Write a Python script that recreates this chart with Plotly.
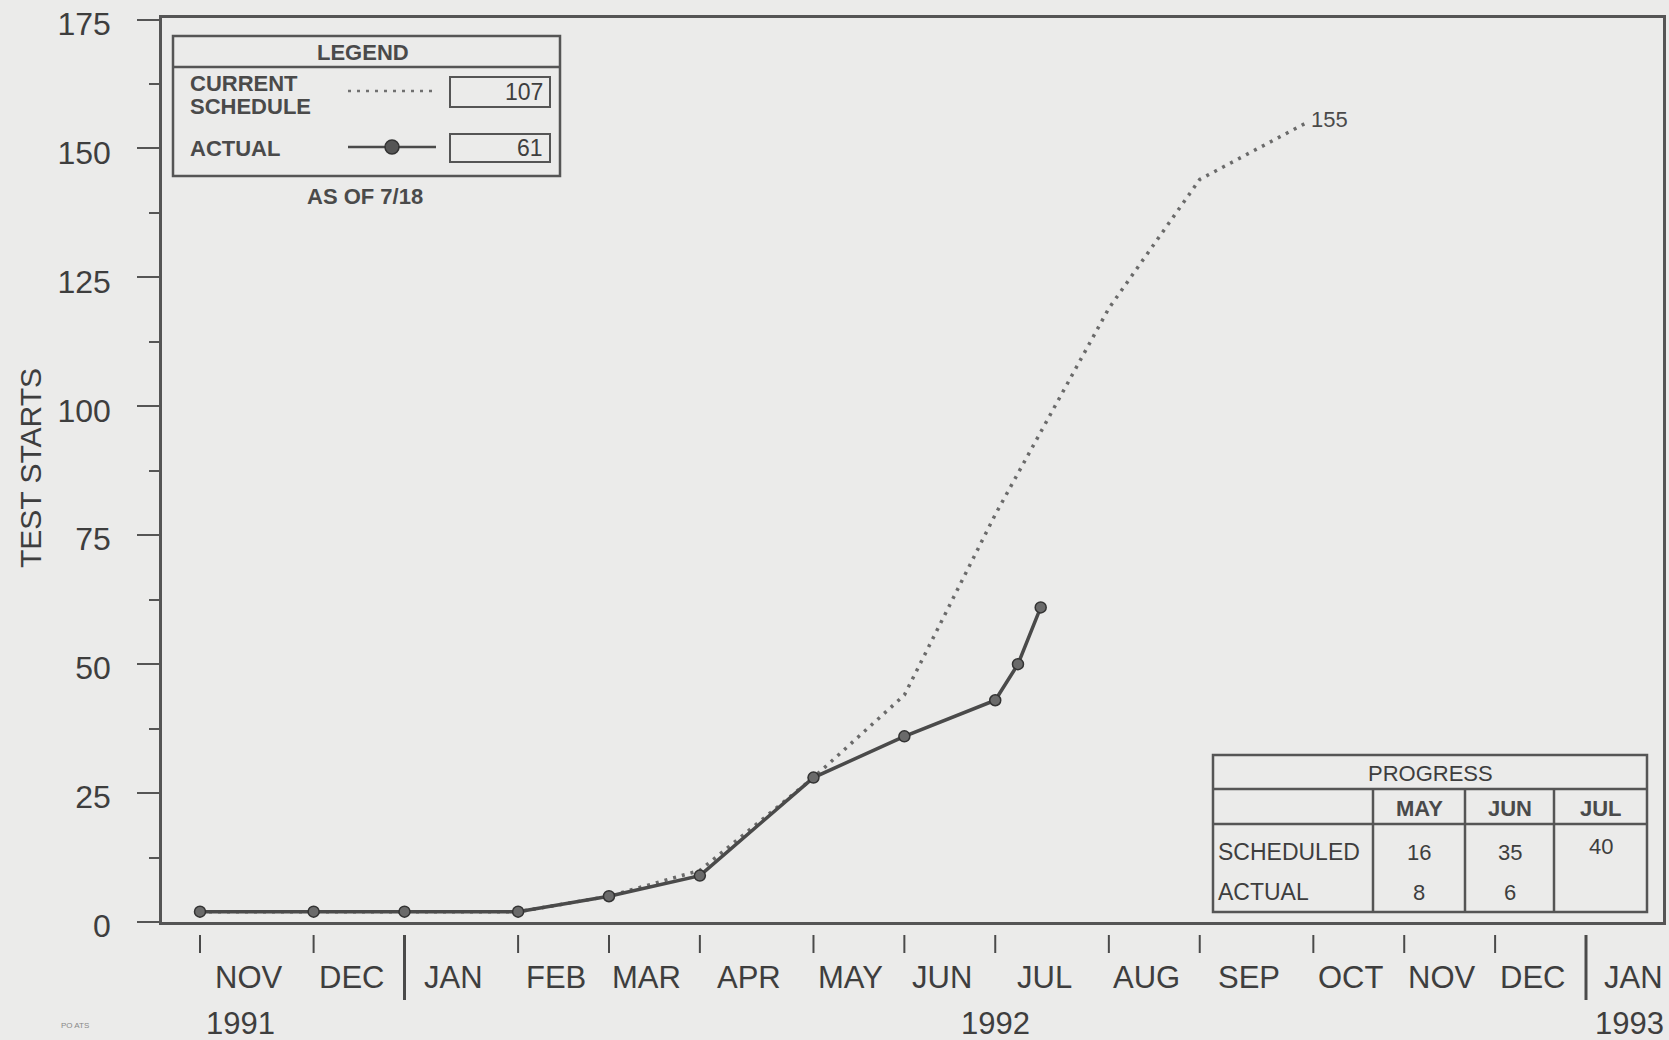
import plotly.graph_objects as go

# ---------------- data ----------------
# x positions are in weeks counted from the first (NOV 1991) tick
tick_weeks = [0, 5, 9, 14, 18, 22, 27, 31, 35, 40, 44, 49, 53, 57, 61]
month_labels = ["NOV", "DEC", "JAN", "FEB", "MAR", "APR", "MAY", "JUN",
                "JUL", "AUG", "SEP", "OCT", "NOV", "DEC", "JAN"]
year_labels = ["1991", "1992", "1993"]
year_weeks = [1.8, 35.0, 62.9]

schedule_weeks = [0, 5, 9, 14, 18, 22, 27, 31, 35, 40, 44, 48.7]
schedule_values = [2, 2, 2, 2, 5, 10, 28, 44, 79, 119, 144, 155]

actual_weeks = [0, 5, 9, 14, 18, 22, 27, 31, 35, 36, 37]
actual_values = [2, 2, 2, 2, 5, 9, 28, 36, 43, 50, 61]

legend_schedule_total = 107
legend_actual_total = 61
as_of = "AS OF 7/18"

progress_months = ["MAY", "JUN", "JUL"]
progress_scheduled = [16, 35, 40]
progress_actual = [8, 6, None]

y_ticks = [0, 25, 50, 75, 100, 125, 150, 175]

# ---------------- layout geometry (pixels) ----------------
W, H = 1669, 1040
L, R, T, B = 162, 1663, 18, 922   # plot area in pixels
PW, PH = R - L, B - T

def px(xp):
    return (xp - L) / PW

def py(yp):
    return (B - yp) / PH

BG = "#ebebea"
INK = "#3e3e3e"
LINE = "#555555"
FONT = "Liberation Sans, Arial, Helvetica, sans-serif"

# axis range in weeks derived from pixel geometry of ticks
wk_px = (1586 - 200) / (tick_weeks[-1] - tick_weeks[0])
x0 = tick_weeks[0] - (200 - L) / wk_px
x1 = tick_weeks[0] + (R - 200) / wk_px

fig = go.Figure()

fig.add_trace(go.Scatter(
    x=schedule_weeks, y=schedule_values, mode="lines",
    line=dict(color="#6a6a6a", width=3.5, dash="3px,6px"),
    hoverinfo="skip", showlegend=False))

fig.add_trace(go.Scatter(
    x=actual_weeks, y=actual_values, mode="lines+markers",
    line=dict(color="#4a4a4a", width=3.5),
    marker=dict(symbol="circle", size=11, color="#6a6a6a",
                line=dict(color="#333333", width=1.5)),
    hoverinfo="skip", showlegend=False))

shapes = []
annotations = []

# x tick marks (detached from the axis line)
for w, lab in zip(tick_weeks, month_labels):
    major = lab == "JAN"
    shapes.append(dict(type="line", xref="x", yref="paper",
                       x0=w, x1=w, y0=py(935), y1=py(1000 if major else 953),
                       line=dict(color="#4a4a4a", width=3 if major else 2)))

# month labels centred between ticks
label_pos = []
for i in range(len(tick_weeks)):
    if i + 1 < len(tick_weeks):
        label_pos.append((tick_weeks[i] + tick_weeks[i + 1]) / 2 - 0.35)
    else:
        label_pos.append(tick_weeks[i] + 2.1)
for xw, lab in zip(label_pos, month_labels):
    annotations.append(dict(x=xw, y=py(977), xref="x", yref="paper",
                            text=lab, showarrow=False, xanchor="center",
                            yanchor="middle",
                            font=dict(family=FONT, size=31, color=INK)))
for xw, lab in zip(year_weeks, year_labels):
    annotations.append(dict(x=xw, y=py(1023), xref="x", yref="paper",
                            text=lab, showarrow=False, xanchor="center",
                            yanchor="middle",
                            font=dict(family=FONT, size=31, color=INK)))

# end label of schedule
annotations.append(dict(x=schedule_weeks[-1], y=schedule_values[-1],
                        xref="x", yref="y", text=str(schedule_values[-1]),
                        showarrow=False, xanchor="left", yanchor="middle",
                        xshift=2, yshift=3,
                        font=dict(family=FONT, size=22, color="#4a4a4a")))

# y axis title
annotations.append(dict(x=px(30), y=py(468), xref="paper", yref="paper",
                        text="TEST STARTS", textangle=-90, showarrow=False,
                        xanchor="center", yanchor="middle",
                        font=dict(family=FONT, size=30, color=INK)))

# small corner note
annotations.append(dict(x=px(75), y=py(1025), xref="paper", yref="paper",
                        text="PO ATS", showarrow=False, xanchor="center",
                        yanchor="middle",
                        font=dict(family=FONT, size=8, color="#888888")))

# ---------------- legend box ----------------
def rect(x0p, y0p, x1p, y1p, w=2.5):
    shapes.append(dict(type="rect", xref="paper", yref="paper",
                       x0=px(x0p), x1=px(x1p), y0=py(y1p), y1=py(y0p),
                       line=dict(color=LINE, width=w), fillcolor=BG))

def hline(x0p, x1p, yp, w=2.5, dash=None, color=LINE):
    ln = dict(color=color, width=w)
    if dash:
        ln["dash"] = dash
    shapes.append(dict(type="line", xref="paper", yref="paper",
                       x0=px(x0p), x1=px(x1p), y0=py(yp), y1=py(yp), line=ln))

def vline(xp, y0p, y1p, w=2.5):
    shapes.append(dict(type="line", xref="paper", yref="paper",
                       x0=px(xp), x1=px(xp), y0=py(y0p), y1=py(y1p),
                       line=dict(color=LINE, width=w)))

def text(xp, yp, s, size=23, anchor="center", color=INK, bold=False):
    annotations.append(dict(x=px(xp), y=py(yp), xref="paper", yref="paper",
                            text=f"<b>{s}</b>" if bold else s,
                            showarrow=False, xanchor=anchor,
                            yanchor="middle",
                            font=dict(family=FONT, size=size, color=color)))

rect(173, 36, 560, 176)
hline(173, 560, 67)
text(363, 52, "LEGEND", size=22, bold=True, color="#4a4a4a")
text(188, 84, "CURRENT", size=22, anchor="left", bold=True, color="#4a4a4a")
text(188, 107, "SCHEDULE", size=22, anchor="left", bold=True, color="#4a4a4a")
hline(348, 432, 91, w=2.5, dash="3px,6px", color="#707070")
rect(450, 77, 550, 107, w=2)
text(545, 92, str(legend_schedule_total), anchor="right")
text(188, 149, "ACTUAL", size=22, anchor="left", bold=True, color="#4a4a4a")
hline(348, 436, 147, w=2.5, color="#4a4a4a")
shapes.append(dict(type="circle", xref="paper", yref="paper",
                   x0=px(385), x1=px(399), y0=py(154), y1=py(140),
                   line=dict(color="#333333", width=1.5), fillcolor="#555555"))
rect(450, 134, 550, 162, w=2)
text(545, 148, str(legend_actual_total), anchor="right")
text(365, 197, as_of, size=22, bold=True, color="#4a4a4a")

# ---------------- progress table ----------------
rect(1213, 755, 1647, 912)
hline(1213, 1647, 789)
hline(1213, 1647, 824)
col_edges = [1373, 1465, 1554, 1647]
for xe in col_edges[:-1]:
    vline(xe, 789, 912)
text(1430, 773, "PROGRESS", size=22)
text(1216, 852, "SCHEDULED", size=23, anchor="left")
text(1216, 892, "ACTUAL", size=23, anchor="left")
for i, m in enumerate(progress_months):
    cx = (col_edges[i] + col_edges[i + 1]) / 2
    text(cx, 808, m, size=22, bold=True, color="#4a4a4a")
    if progress_scheduled[i] is not None:
        text(cx, 852 if i < 2 else 846, str(progress_scheduled[i]), size=22)
    if progress_actual[i] is not None:
        text(cx, 892, str(progress_actual[i]), size=22)

fig.update_layout(
    width=W, height=H,
    margin=dict(l=L, r=W - R, t=T, b=H - B, pad=0),
    paper_bgcolor=BG, plot_bgcolor=BG,
    shapes=shapes, annotations=annotations,
    showlegend=False,
    xaxis=dict(range=[x0, x1], showgrid=False, zeroline=False,
               showticklabels=False, ticks="", automargin=False,
               showline=True, linecolor=LINE, linewidth=2.5, mirror=True),
    yaxis=dict(range=[0, 175.3], tickvals=y_ticks,
               ticktext=[str(v) for v in y_ticks],
               ticks="outside", ticklen=22, tickwidth=2, tickcolor="#555555",
               showgrid=False, zeroline=False, automargin=False,
               showline=True, linecolor=LINE, linewidth=2.5, mirror=True,
               tickfont=dict(family=FONT, size=32, color=INK),
               ticklabeloverflow="allow",
               ticklabelstandoff=20,
               ticklabelshift=4,
               minor=dict(dtick=12.5, tick0=0, ticks="outside", ticklen=10,
                          tickwidth=2, tickcolor="#555555", showgrid=False)),
)

fig.write_html(
    "out.html",
    config={"displayModeBar": False},
    post_script="document.body.style.margin='0';"
                "document.body.style.background='" + BG + "';",
)
